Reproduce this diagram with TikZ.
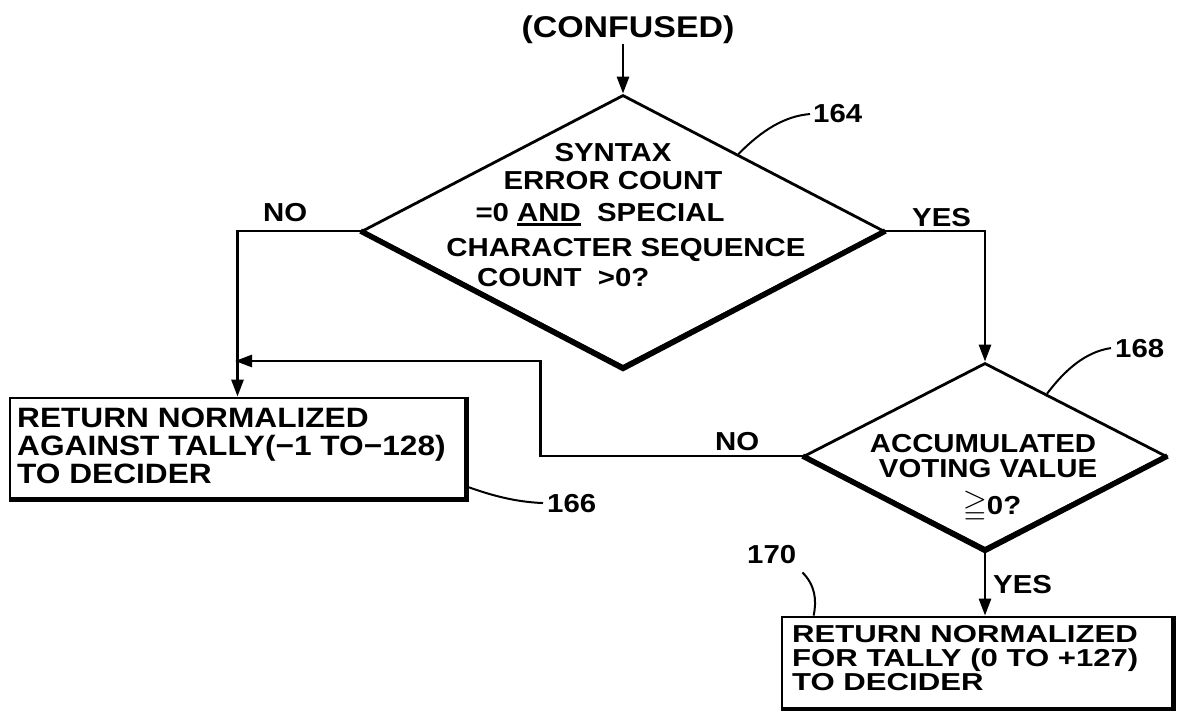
\documentclass[tikz,border=0pt]{standalone}
\usepackage{fontspec}
\usepackage{amssymb}
\newfontfamily\pf[FakeStretch=1.13]{Liberation Sans}
\newfontfamily\pfw[FakeStretch=1.27]{Liberation Sans}
\usetikzlibrary{shapes.geometric,arrows.meta,calc}
\newcommand{\myul}[1]{\setbox0=\hbox{#1}\rlap{\rule[-4pt]{\wd0}{2.6pt}}\box0\relax}
\begin{document}
\begin{tikzpicture}[x=1pt,y=-1pt,
  t/.style={font=\pf\bfseries\fontsize{26}{30}\selectfont, inner sep=0pt, anchor=base},
  tw/.style={t, anchor=base west},
  bt/.style={font=\pf\bfseries\fontsize{28}{30}\selectfont, inner sep=0pt, anchor=base west},
  bts/.style={font=\pfw\bfseries\fontsize{24.5}{26}\selectfont, inner sep=0pt, anchor=base west},
  dec/.style={shape=diamond, draw, line width=2.8pt, inner sep=0pt},
  box/.style={draw, line width=2.8pt, inner sep=0pt},
  con/.style={line width=2.8pt},
  arr/.style={con, -{Triangle[length=17pt,width=12pt]}},
  lead/.style={line width=2pt},
  heavy/.style={line width=5.5pt, line join=miter},
  heavybox/.style={line width=4.5pt}
]
\fill[white] (0,0) rectangle (1180,711);
\useasboundingbox (0,0) rectangle (1180,711);

% start
\node[t, font=\pf\bfseries\fontsize{30}{30}\selectfont] (conf) at (628,38) {(CONFUSED)};

% decision 164
\node[dec, minimum width=522pt, minimum height=272pt] (d1) at (623,231) {};
\draw[heavy] (d1.west) -- (d1.south) -- (d1.east);
\node[t] (s1) at (613,162) {SYNTAX};
\node[t] (s2) at (613,190) {ERROR COUNT};
\node[t] (s3) at (600,222) {=0 \myul{AND}\ \ SPECIAL};
\node[t] (s4) at (626,257) {CHARACTER SEQUENCE};
\node[tw] (s5) at (477,287) {COUNT\ \ >0?};
\draw[arr] (conf.south -| d1.north) -- (d1.north);

\node[tw] (l164) at (813,123) {164};
\draw[lead] ($(d1.north)!0.44!(d1.east)$) .. controls (762,130) and (785,116) .. ([xshift=-3pt]l164.west);

% NO branch of 164
\node[tw] (no1) at (263,222) {NO};
\node[box, minimum width=455pt, minimum height=100pt] (b1) at (237.5,448) {};
\draw[heavybox] (b1.north east) -- (b1.south east) -- (b1.south west);
\node[bt] (b1a) at (17,427) {RETURN NORMALIZED};
\node[bt] (b1b) at (17,455) {AGAINST TALLY(−1 TO−128)};
\node[bt] (b1c) at (17,483) {TO DECIDER};
\draw[arr] (d1.west) -| (b1.north);

\node[tw] (l166) at (547,512) {166};
\draw[lead] ($(b1.south east)+(0,-13)$) .. controls (490,495) and (515,502) .. ([xshift=-4pt]l166.west);

% YES branch of 164
\node[tw] (yes1) at (912,227) {YES};
\node[dec, minimum width=362pt, minimum height=186pt] (d2) at (985,456) {};
\draw[heavy] (d2.west) -- (d2.south) -- (d2.east);
\node[t] (v1) at (983,452) {ACCUMULATED};
\node[t] (v2) at (988,477) {VOTING VALUE};
\node[t] (v3) at (992,514) {{\fontsize{31}{31}\selectfont$\geqq$}0?};
\draw[arr] (d1.east) -| (d2.north);

\node[tw] (l168) at (1115,357) {168};
\draw[lead] ($(d2.north)!0.34!(d2.east)$) .. controls (1065,370) and (1085,352) .. ([xshift=-4pt]l168.west);

% NO branch of 168
\node[tw] (no2) at (715,450) {NO};
\coordinate (tip) at (235,361);
\draw[arr] (d2.west) -- ++(-262,0) |- (tip);

% YES branch of 168
\node[tw] (yes2) at (993,593) {YES};
\node[box, minimum width=390pt, minimum height=91pt] (b2) at (977,662.5) {};
\draw[heavybox] (b2.north east) -- (b2.south east) -- (b2.south west);
\node[bts] (b2a) at (792,642) {RETURN NORMALIZED};
\node[bts] (b2b) at (792,666) {FOR TALLY (0 TO +127)};
\node[bts] (b2c) at (792,690) {TO DECIDER};
\draw[arr] (d2.south) -- (d2.south |- b2.north);

\node[tw] (l170) at (747,563) {170};
\draw[lead] ($(l170.south east)+(6,9)$) .. controls (815,585) and (817,600) .. ($(b2.north west)+(33,0)$);
\end{tikzpicture}
\end{document}
